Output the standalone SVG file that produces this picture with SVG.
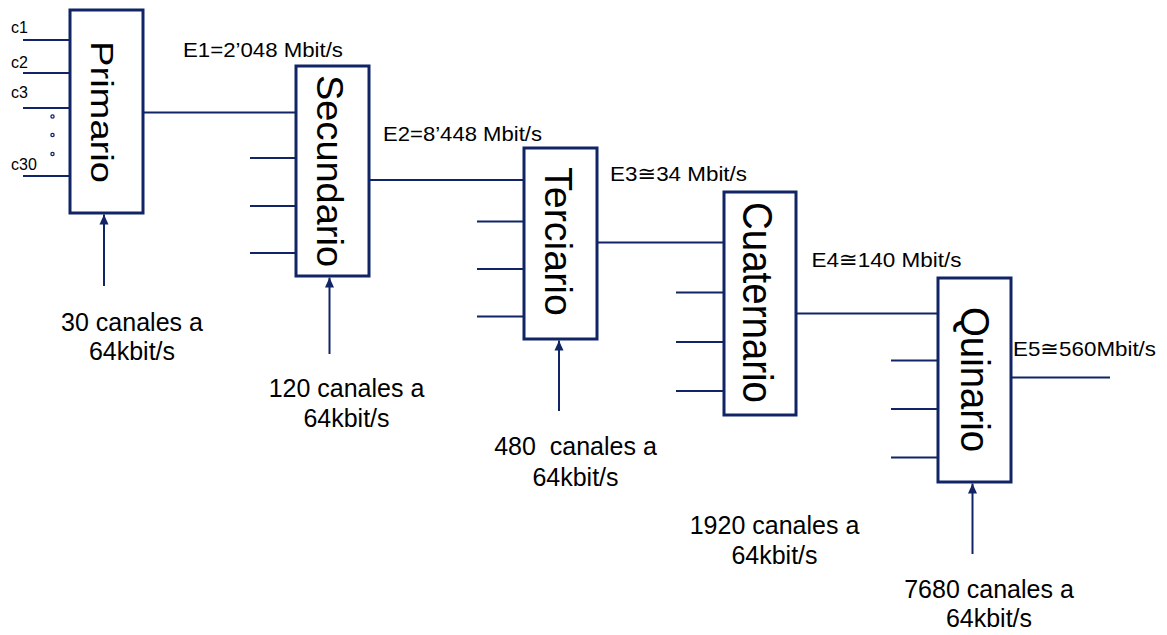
<svg xmlns="http://www.w3.org/2000/svg" width="1167" height="635" viewBox="0 0 1167 635">
<style>
.box{fill:#fff;stroke:#112466;stroke-width:3}
.ln{stroke:#112466;stroke-width:2;fill:none}
.arr{stroke:#112466;stroke-width:2;fill:none;marker-end:url(#ah)}
.dot{fill:#fff;stroke:#112466;stroke-width:1.3}
.bt{font-family:"Liberation Sans",Arial,sans-serif;fill:#000}
.lab{font-family:"Liberation Sans",Arial,sans-serif;font-size:25px;fill:#000;text-anchor:middle}
.rate{font-family:"Liberation Sans","DejaVu Sans",Arial,sans-serif;font-size:21px;fill:#000}
.c{font-family:"Liberation Sans",Arial,sans-serif;font-size:16px;fill:#000}
</style>
<defs>
<marker id="ah" markerWidth="10" markerHeight="10" refX="10" refY="5" orient="auto" markerUnits="userSpaceOnUse">
<path d="M0,0.5 L10,5 L0,9.5 Z" fill="#112466"/>
</marker>
</defs>
<g id="connectors">
<line class="ln" x1="23" y1="40" x2="70" y2="40"/>
<line class="ln" x1="23" y1="73" x2="70" y2="73"/>
<line class="ln" x1="23" y1="108" x2="70" y2="108"/>
<line class="ln" x1="23" y1="176" x2="70" y2="176"/>
<circle class="dot" cx="52.5" cy="116.5" r="1.6"/>
<circle class="dot" cx="52.5" cy="135" r="1.6"/>
<circle class="dot" cx="52.5" cy="154" r="1.6"/>
<line class="ln" x1="143" y1="112.5" x2="296" y2="112.5"/>
<line class="ln" x1="250" y1="158" x2="296" y2="158"/>
<line class="ln" x1="250" y1="206" x2="296" y2="206"/>
<line class="ln" x1="250" y1="253" x2="296" y2="253"/>
<line class="ln" x1="369" y1="180" x2="524" y2="180"/>
<line class="ln" x1="477" y1="221.5" x2="524" y2="221.5"/>
<line class="ln" x1="477" y1="269" x2="524" y2="269"/>
<line class="ln" x1="477" y1="316.5" x2="524" y2="316.5"/>
<line class="ln" x1="597" y1="242.5" x2="724" y2="242.5"/>
<line class="ln" x1="676" y1="292.5" x2="724" y2="292.5"/>
<line class="ln" x1="676" y1="342" x2="724" y2="342"/>
<line class="ln" x1="676" y1="391" x2="724" y2="391"/>
<line class="ln" x1="796" y1="313.5" x2="938" y2="313.5"/>
<line class="ln" x1="891" y1="360.5" x2="938" y2="360.5"/>
<line class="ln" x1="891" y1="409" x2="938" y2="409"/>
<line class="ln" x1="891" y1="457.5" x2="938" y2="457.5"/>
<line class="ln" x1="1011" y1="377.5" x2="1110" y2="377.5"/>
<line class="arr" x1="104" y1="286" x2="104" y2="214.5"/>
<line class="arr" x1="329.5" y1="354" x2="329.5" y2="277.5"/>
<line class="arr" x1="559" y1="411" x2="559" y2="340.5"/>
<line class="arr" x1="972.5" y1="554" x2="972.5" y2="483.5"/>
</g>
<g id="primario">
<rect class="box" x="70" y="10" width="73" height="203"/>
<text class="bt" font-size="31" textLength="142" lengthAdjust="spacingAndGlyphs" transform="translate(91,41) rotate(90)">Primario</text>
</g>
<g id="secundario">
<rect class="box" x="296" y="66" width="73" height="210"/>
<text class="bt" font-size="36" textLength="192" lengthAdjust="spacingAndGlyphs" transform="translate(317,75) rotate(90)">Secundario</text>
</g>
<g id="terciario">
<rect class="box" x="524" y="148" width="73" height="191"/>
<text class="bt" font-size="39" textLength="149" lengthAdjust="spacingAndGlyphs" transform="translate(545,167) rotate(90)">Terciario</text>
</g>
<g id="cuaternario">
<rect class="box" x="724" y="192" width="72" height="223"/>
<text class="bt" font-size="42" textLength="201" lengthAdjust="spacingAndGlyphs" transform="translate(743,202) rotate(90)">Cuaternario</text>
</g>
<g id="quinario">
<rect class="box" x="938" y="278" width="73" height="204"/>
<text class="bt" font-size="41" textLength="145" lengthAdjust="spacingAndGlyphs" transform="translate(961,307) rotate(90)">Quinario</text>
</g>
<g id="labels">
<text class="c" x="11" y="33">c1</text>
<text class="c" x="11" y="68">c2</text>
<text class="c" x="11" y="98">c3</text>
<text class="c" x="11" y="170">c30</text>
<text class="rate" x="183" y="56.5" textLength="160" lengthAdjust="spacingAndGlyphs">E1=2’048 Mbit/s</text>
<text class="rate" x="383" y="140.5" textLength="159" lengthAdjust="spacingAndGlyphs">E2=8’448 Mbit/s</text>
<text class="rate" x="610" y="180.5" textLength="137" lengthAdjust="spacingAndGlyphs">E3≅34 Mbit/s</text>
<text class="rate" x="811.5" y="266.5" textLength="150" lengthAdjust="spacingAndGlyphs">E4≅140 Mbit/s</text>
<text class="rate" x="1013" y="356" textLength="143" lengthAdjust="spacingAndGlyphs">E5≅560Mbit/s</text>
<text class="lab" x="132" y="331">30 canales a</text>
<text class="lab" x="132" y="360">64kbit/s</text>
<text class="lab" x="346.5" y="397">120 canales a</text>
<text class="lab" x="346.5" y="426.5">64kbit/s</text>
<text class="lab" x="575.5" y="455" xml:space="preserve">480  canales a</text>
<text class="lab" x="575.5" y="486">64kbit/s</text>
<text class="lab" x="774.5" y="534">1920 canales a</text>
<text class="lab" x="774.5" y="564">64kbit/s</text>
<text class="lab" x="989" y="598">7680 canales a</text>
<text class="lab" x="989" y="626.5">64kbit/s</text>
</g>
</svg>
